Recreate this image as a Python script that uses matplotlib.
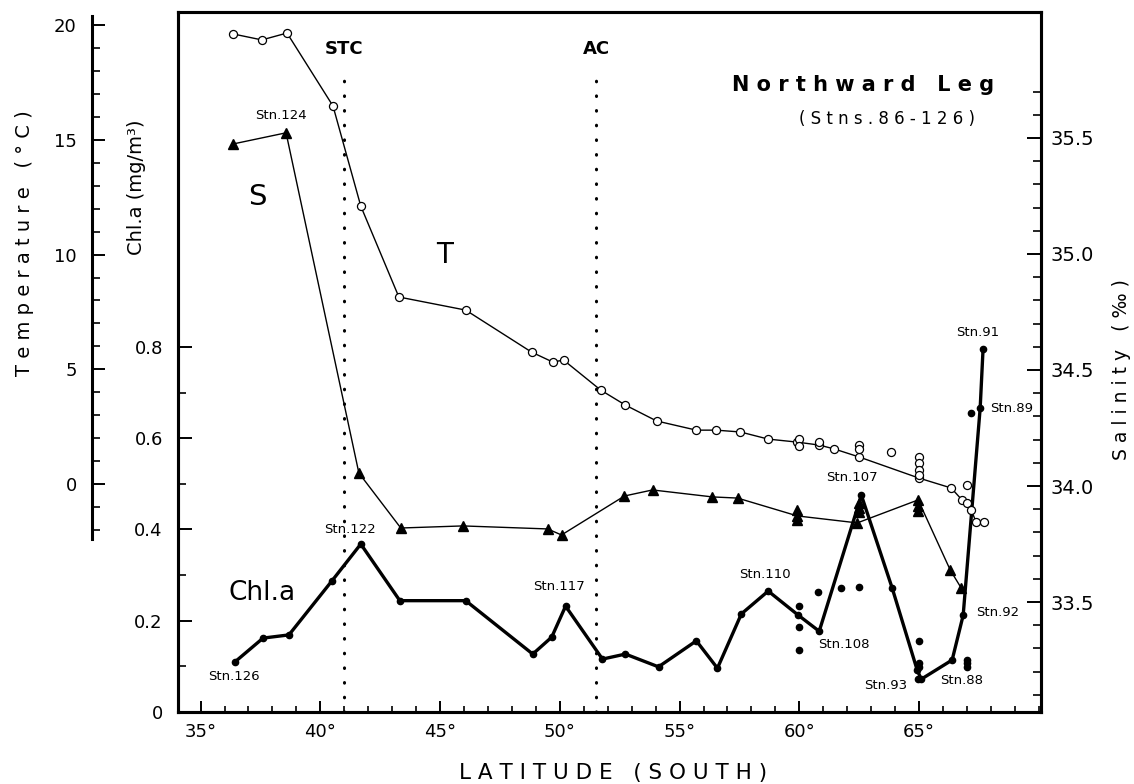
import matplotlib
matplotlib.use("Agg")
import matplotlib.pyplot as plt
from matplotlib.ticker import MultipleLocator, FixedLocator, FuncFormatter

plt.rcParams["font.family"] = "DejaVu Sans"

# temperature (open circles), main track
temp_lat = [36.36, 37.56, 38.61, 40.53, 41.69, 43.28, 46.07, 48.82, 49.70, 50.16,
            51.70, 52.74, 54.04, 55.70, 56.53, 57.54, 58.70, 59.90, 60.83, 61.46,
            62.50, 65.00, 66.34, 66.80, 67.00, 67.18, 67.38, 67.72]
temp_val = [19.61, 19.35, 19.65, 16.47, 12.11, 8.15, 7.58, 5.75, 5.32, 5.40,
            4.10, 3.44, 2.75, 2.35, 2.35, 2.27, 1.96, 1.83, 1.70, 1.53,
            1.18, 0.26, -0.17, -0.70, -0.83, -1.13, -1.66, -1.66]
# extra temperature readings at repeated stations
temp_x_lat = [60.0, 60.0, 60.83, 62.5, 62.5, 63.84, 65.0, 65.0, 65.0, 65.0, 67.0]
temp_x_val = [1.96, 1.66, 1.83, 1.70, 1.53, 1.39, 1.18, 0.92, 0.61, 0.39, -0.04]

# salinity (filled triangles)
sal_lat = [36.36, 38.57, 41.61, 43.36, 45.95, 49.49, 50.07, 52.70, 53.87, 56.37,
           57.42, 59.92, 62.42, 64.96, 66.30, 66.76]
sal_val = [35.474, 35.522, 34.056, 33.819, 33.828, 33.815, 33.789, 33.957, 33.983, 33.953,
           33.948, 33.871, 33.841, 33.940, 33.638, 33.560]
sal_x_lat = [59.92, 59.92, 62.5, 62.5, 62.5, 64.96, 64.96]
sal_x_val = [33.897, 33.853, 33.927, 33.905, 33.888, 33.914, 33.892]

# chlorophyll a (filled dots, thick line)
chl_lat = [36.44, 37.61, 38.69, 40.48, 41.69, 43.32, 46.07, 48.87, 49.66, 50.24,
           51.78, 52.74, 54.12, 55.70, 56.58, 57.58, 58.70, 59.96, 60.83, 62.59,
           63.88, 64.92, 65.09, 66.38, 66.84, 67.55, 67.67]
chl_val = [0.110, 0.162, 0.169, 0.287, 0.368, 0.244, 0.244, 0.127, 0.164, 0.232,
           0.116, 0.127, 0.099, 0.156, 0.096, 0.215, 0.265, 0.212, 0.177, 0.475,
           0.271, 0.092, 0.072, 0.114, 0.212, 0.666, 0.795]
chl_x_lat = [60.0, 60.0, 60.0, 60.79, 61.75, 62.5, 65.0, 65.0, 65.0, 64.96,
             67.0, 67.0, 67.0, 67.18]
chl_x_val = [0.232, 0.186, 0.136, 0.263, 0.272, 0.274, 0.156, 0.107, 0.099, 0.072,
             0.114, 0.107, 0.099, 0.655]

# fronts
front_names = ["STC", "AC"]
front_lat = [40.98, 51.52]

x_ticks = [35, 40, 45, 50, 55, 60, 65]
chl_ticks = [0, 0.2, 0.4, 0.6, 0.8]
temp_ticks = [0, 5, 10, 15, 20]
sal_ticks = [33.5, 34.0, 34.5, 35.0, 35.5]
sal_minor = [33.1, 33.2, 33.3, 33.4, 33.6, 33.7, 33.8, 33.9, 34.1, 34.2, 34.3, 34.4,
             34.6, 34.7, 34.8, 34.9, 35.1, 35.2, 35.3, 35.4, 35.6, 35.7]

# station labels: (text, lat, chl-axis y)
stn_labels = [("Stn.124", 38.36, 1.306), ("Stn.122", 41.23, 0.399),
              ("Stn.126", 36.40, 0.077), ("Stn.117", 49.96, 0.274),
              ("Stn.110", 58.58, 0.302), ("Stn.108", 61.84, 0.147),
              ("Stn.107", 62.21, 0.513), ("Stn.93", 63.59, 0.059),
              ("Stn.88", 66.76, 0.068), ("Stn.92", 68.30, 0.217),
              ("Stn.89", 68.88, 0.666), ("Stn.91", 67.46, 0.832)]

fig = plt.figure(figsize=(11.34, 7.84), dpi=100)
ax = fig.add_axes([0.157, 0.0918, 0.761, 0.893])
ax_s = ax.twinx()
ax_t = ax.twinx()
for a in (ax_s, ax_t):
    a.patch.set_visible(False)

# chl.a
ax.plot(chl_lat, chl_val, "-o", color="black", lw=2.4, ms=4.5)
ax.plot(chl_x_lat, chl_x_val, "o", color="black", ms=4.5)
for name, lat in zip(front_names, front_lat):
    ax.axvline(lat, ymax=0.917, color="black", lw=2.2,
               linestyle=(0, (0.2, 4.6)), dash_capstyle="round")

ax.set_xlim(34.06, 70.09)
ax.set_ylim(0, 1.534)
ax.xaxis.set_major_locator(FixedLocator(x_ticks))
ax.xaxis.set_minor_locator(MultipleLocator(1))
ax.xaxis.set_major_formatter(FuncFormatter(lambda v, p: "%d°" % v))
ax.yaxis.set_major_locator(FixedLocator(chl_ticks))
ax.yaxis.set_minor_locator(FixedLocator([0.1, 0.3, 0.5, 0.7]))
ax.yaxis.set_major_formatter(FuncFormatter(lambda v, p: "0" if v == 0 else "%.1f" % v))
ax.tick_params(axis="x", which="major", direction="in", length=8, width=1.4, labelsize=13, pad=8)
ax.tick_params(axis="x", which="minor", direction="in", length=4, width=1.2)
ax.tick_params(axis="y", which="major", direction="in", length=10, width=1.4, labelsize=13, pad=11)
ax.tick_params(axis="y", which="minor", direction="in", length=6, width=1.2)
for sp in ax.spines.values():
    sp.set_linewidth(2.2)

# salinity
ax_s.plot(sal_lat, sal_val, "-^", color="black", lw=1.0, ms=7)
ax_s.plot(sal_x_lat, sal_x_val, "^", color="black", ms=7)
ax_s.set_ylim(33.026, 36.043)
ax_s.yaxis.set_major_locator(FixedLocator(sal_ticks))
ax_s.yaxis.set_minor_locator(FixedLocator(sal_minor))
ax_s.yaxis.set_major_formatter(FuncFormatter(lambda v, p: "%.1f" % v))
ax_s.tick_params(axis="y", which="major", direction="in", length=10, width=1.4, labelsize=14, pad=7)
ax_s.tick_params(axis="y", which="minor", direction="in", length=6, width=1.2)
for sp in ax_s.spines.values():
    sp.set_linewidth(2.2)

# temperature, on an outer left spine
ax_t.plot(temp_lat, temp_val, "-o", color="black", lw=1.0, ms=5.8, mfc="white", mew=0.9)
ax_t.plot(temp_x_lat, temp_x_val, "o", color="black", ms=5.8, mfc="white", mew=0.9)
ax_t.set_ylim(-9.93, 20.57)
ax_t.yaxis.set_ticks_position("left")
ax_t.yaxis.set_label_position("left")
ax_t.spines["left"].set_position(("axes", -0.0997))
ax_t.spines["left"].set_bounds(-2.4, 20.4)
ax_t.spines["left"].set_linewidth(2.2)
for side in ("right", "top", "bottom"):
    ax_t.spines[side].set_visible(False)
ax_t.yaxis.set_major_locator(FixedLocator(temp_ticks))
ax_t.yaxis.set_minor_locator(FixedLocator(list(range(-2, 21))))
ax_t.yaxis.set_major_formatter(FuncFormatter(lambda v, p: "%d" % v))
ax_t.tick_params(axis="y", which="major", direction="in", length=9, width=1.4, labelsize=13, pad=11)
ax_t.tick_params(axis="y", which="minor", direction="in", length=6, width=1.2)

# text
for txt, lx, ly in stn_labels:
    ax.text(lx, ly, txt, fontsize=9.5, ha="center", va="center")
for name, lat in zip(front_names, front_lat):
    ax.text(lat, 1.452, name, fontsize=13, fontweight="bold", ha="center", va="center")
ax.text(45.2, 1.001, "T", fontsize=20, ha="center", va="center")
ax.text(37.36, 1.128, "S", fontsize=21, ha="center", va="center")
ax.text(37.56, 0.261, "Chl.a", fontsize=19, ha="center", va="center")
ax.text(62.67, 1.373, "N o r t h w a r d   L e g", fontsize=15, fontweight="bold",
        ha="center", va="center")
ax.text(63.67, 1.299, "( S t n s . 8 6 - 1 2 6 )", fontsize=12, ha="center", va="center")

fig.text(0.5406, 0.014, "L A T I T U D E   ( S O U T H )", fontsize=15.5, ha="center", va="center")
fig.text(0.022, 0.690, "T e m p e r a t u r e   ( ° C )", fontsize=14, rotation=90,
         ha="center", va="center")
fig.text(0.1208, 0.7615, "Chl.a (mg/m³)", fontsize=14, rotation=90, ha="center", va="center")
fig.text(0.9894, 0.528, "S a l i n i t y   ( ‰ )", fontsize=13.5, rotation=90,
         ha="center", va="center")

fig.savefig("out.png", dpi=100)
